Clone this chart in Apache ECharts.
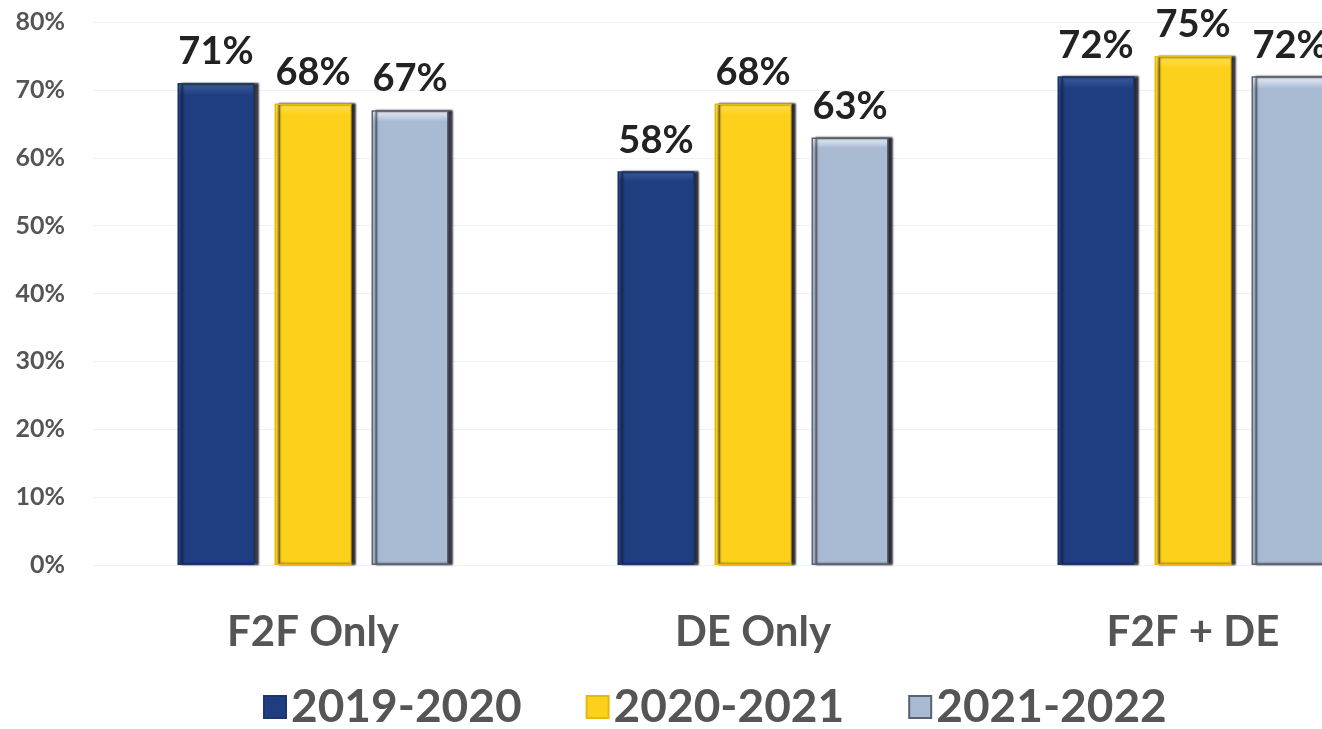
<!DOCTYPE html>
<html>
<head>
<meta charset="utf-8">
<script src="https://cdn.jsdelivr.net/npm/echarts@6/dist/echarts.min.js"></script>
<style>
  html, body { margin: 0; padding: 0; background: #fff; overflow: hidden; }
  /* the drawing runs past the right edge of the window; the third group is cut off */
  #chart { width: 1413px; height: 729px; }
</style>
</head>
<body>
<div id="chart"></div>
<script>
// Categories and yearly shares (percent)
const categories = ['F2F Only', 'DE Only', 'F2F + DE'];
const years = ['2019-2020', '2020-2021', '2021-2022'];
const values2019 = [71, 58, 72];
const values2020 = [68, 68, 75];
const values2021 = [67, 63, 72];
const yTicks = [0, 10, 20, 30, 40, 50, 60, 70, 80];

const FONT = 'Lato, "Open Sans", sans-serif';

const palettes = [
  { top: '#3a5c9e', base: '#1f3e80', border: '#1a3570' },
  { top: '#ffe24a', base: '#fdd11b', border: '#e8b812' },
  { top: '#eef2f8', base: '#a9bad3', border: '#5a6270' }
];

function makeSeries(name, data, p) {
  return {
    name: name,
    type: 'bar',
    data: data,
    barWidth: 77,
    barGap: '26%',
    itemStyle: {
      color: {
        type: 'linear', x: 0, y: 0, x2: 0, y2: 1,
        colorStops: [
          { offset: 0, color: p.top },
          { offset: 0.025, color: p.base },
          { offset: 1, color: p.base }
        ]
      },
      borderColor: p.border,
      borderWidth: 1.5,
      shadowColor: 'rgba(20,20,30,0.9)',
      shadowBlur: 2,
      shadowOffsetX: 4,
      shadowOffsetY: 0
    },
    label: {
      show: true,
      position: 'top',
      distance: 12,
      formatter: '{c}%',
      fontFamily: FONT,
      fontWeight: 'bold',
      fontSize: 38,
      color: '#222'
    }
  };
}

const chart = echarts.init(document.getElementById('chart'));
chart.setOption({
  animation: false,
  backgroundColor: '#fff',
  grid: { left: 93, right: 0, top: 22, bottom: 164, containLabel: false },
  legend: {
    data: years,
    left: 258,
    bottom: -6,
    itemWidth: 22,
    itemHeight: 22,
    itemGap: 64,
    icon: 'rect',
    textStyle: {
      fontFamily: FONT,
      fontWeight: 'bold',
      fontSize: 46,
      color: '#555'
    }
  },
  xAxis: {
    type: 'category',
    data: categories,
    axisLine: { show: false },
    axisTick: { show: false },
    axisLabel: {
      margin: 46,
      fontFamily: FONT,
      fontWeight: 'bold',
      fontSize: 42,
      color: '#555'
    }
  },
  yAxis: {
    type: 'value',
    min: yTicks[0],
    max: yTicks[yTicks.length - 1],
    interval: 10,
    axisLine: { show: false },
    axisTick: { show: false },
    splitLine: { lineStyle: { color: '#eef2f6', width: 1 } },
    axisLabel: {
      margin: 28,
      formatter: '{value}%',
      fontFamily: FONT,
      fontWeight: 'bold',
      fontSize: 25,
      color: '#555'
    }
  },
  series: [
    makeSeries(years[0], values2019, palettes[0]),
    makeSeries(years[1], values2020, palettes[1]),
    makeSeries(years[2], values2021, palettes[2])
  ]
});
</script>
</body>
</html>
